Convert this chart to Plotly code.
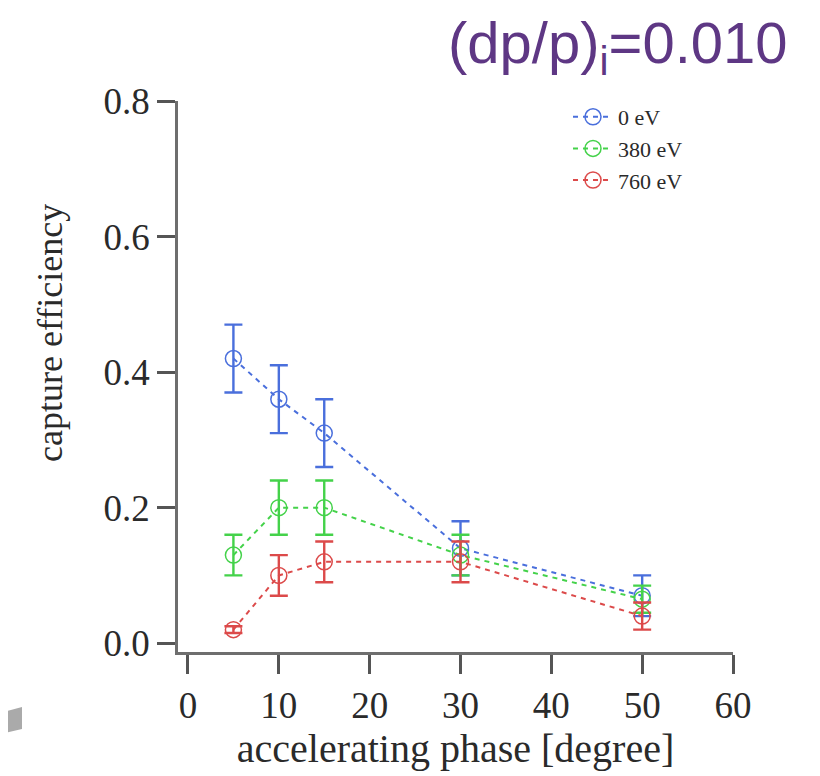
import plotly.graph_objects as go

phase = [5, 10, 15, 30, 50]
series_names = ["0 eV", "380 eV", "760 eV"]
eff_0 = [0.42, 0.36, 0.31, 0.14, 0.07]
err_0 = [0.05, 0.05, 0.05, 0.04, 0.03]
eff_380 = [0.13, 0.20, 0.20, 0.13, 0.065]
err_380 = [0.03, 0.04, 0.04, 0.03, 0.02]
eff_760 = [0.02, 0.10, 0.12, 0.12, 0.04]
err_760 = [0.005, 0.03, 0.03, 0.03, 0.02]
x_ticks = [0, 10, 20, 30, 40, 50, 60]
y_ticks = [0.0, 0.2, 0.4, 0.6, 0.8]

colors = ["#4a6fdc", "#44d24a", "#dc4a4a"]
values = [eff_0, eff_380, eff_760]
errors = [err_0, err_380, err_760]

W, H = 820, 776
OFF = 8  # page offset of the rendered figure
# plot area in reference pixels: x 178..733, y 101..652
L, R, T, B = 178 - OFF, 820 - 733 + OFF, 101 - OFF, 776 - 652 + OFF
pw, ph = W - L - R, H - T - B

def px(xp, yp):
    return (xp - OFF - L) / pw, (H - B - (yp - OFF)) / ph

fig = go.Figure()
for name, v, e, c in zip(series_names, values, errors, colors):
    fig.add_trace(go.Scatter(
        x=phase, y=v, name=name, mode="lines+markers",
        line=dict(color=c, width=2, dash="5px,5px"),
        marker=dict(symbol="circle-open", size=16, color=c, line=dict(width=1.5, color=c)),
        error_y=dict(type="data", array=e, visible=True, color=c, thickness=2.4, width=9),
    ))

font_serif = "Liberation Serif, Times New Roman, serif"
txt = "#2a2a2a"
lx, ly = px(568, 96)
fig.update_layout(
    width=W, height=H,
    margin=dict(l=L, r=R, t=T, b=B),
    paper_bgcolor="white", plot_bgcolor="white",
    font=dict(family=font_serif, color=txt),
    showlegend=True,
    legend=dict(x=lx, y=ly, xanchor="left", yanchor="top",
                font=dict(size=22, family=font_serif, color=txt),
                bgcolor="rgba(0,0,0,0)", itemwidth=40),
    xaxis=dict(range=[-1.1, 60], tickvals=x_ticks, showgrid=False, zeroline=False,
               showline=True, linecolor="#6e6e6e", linewidth=2.5,
               ticks="outside", ticklen=19, tickwidth=2.5, tickcolor="#555555",
               tickfont=dict(size=37, family=font_serif, color=txt),
               title=dict(text="accelerating phase [degree]", font=dict(size=40, family=font_serif, color=txt), standoff=4)),
    yaxis=dict(range=[-0.013, 0.8], tickvals=y_ticks, tickformat=".1f", showgrid=False, zeroline=False,
               showline=True, linecolor="#6e6e6e", linewidth=2.5,
               ticks="outside", ticklen=18, tickwidth=2.5, tickcolor="#555555",
               tickfont=dict(size=37, family=font_serif, color=txt)),
)

ax, ay = px(50, 333)
fig.add_annotation(
    text="capture efficiency", xref="paper", yref="paper", x=ax, y=ay,
    xanchor="center", yanchor="middle", textangle=-90, showarrow=False,
    font=dict(size=36, family=font_serif, color=txt),
)

tx, ty = px(790, 47)
fig.add_annotation(
    text="(dp/p)<sub>i</sub>=0.010", xref="paper", yref="paper",
    x=tx, y=ty, xanchor="right", yanchor="middle",
    showarrow=False, font=dict(size=58, family="Liberation Sans, Arial, sans-serif", color="#5e3784"),
)

pts = [px(0, 713), px(22, 707), px(22, 729), px(0, 734)]
path = "M " + " L ".join(f"{a},{b}" for a, b in pts) + " Z"
fig.add_shape(type="path", path=path, xref="paper", yref="paper",
              fillcolor="#aaaaaa", line=dict(width=0), layer="above")

fig.write_html("out.html")
